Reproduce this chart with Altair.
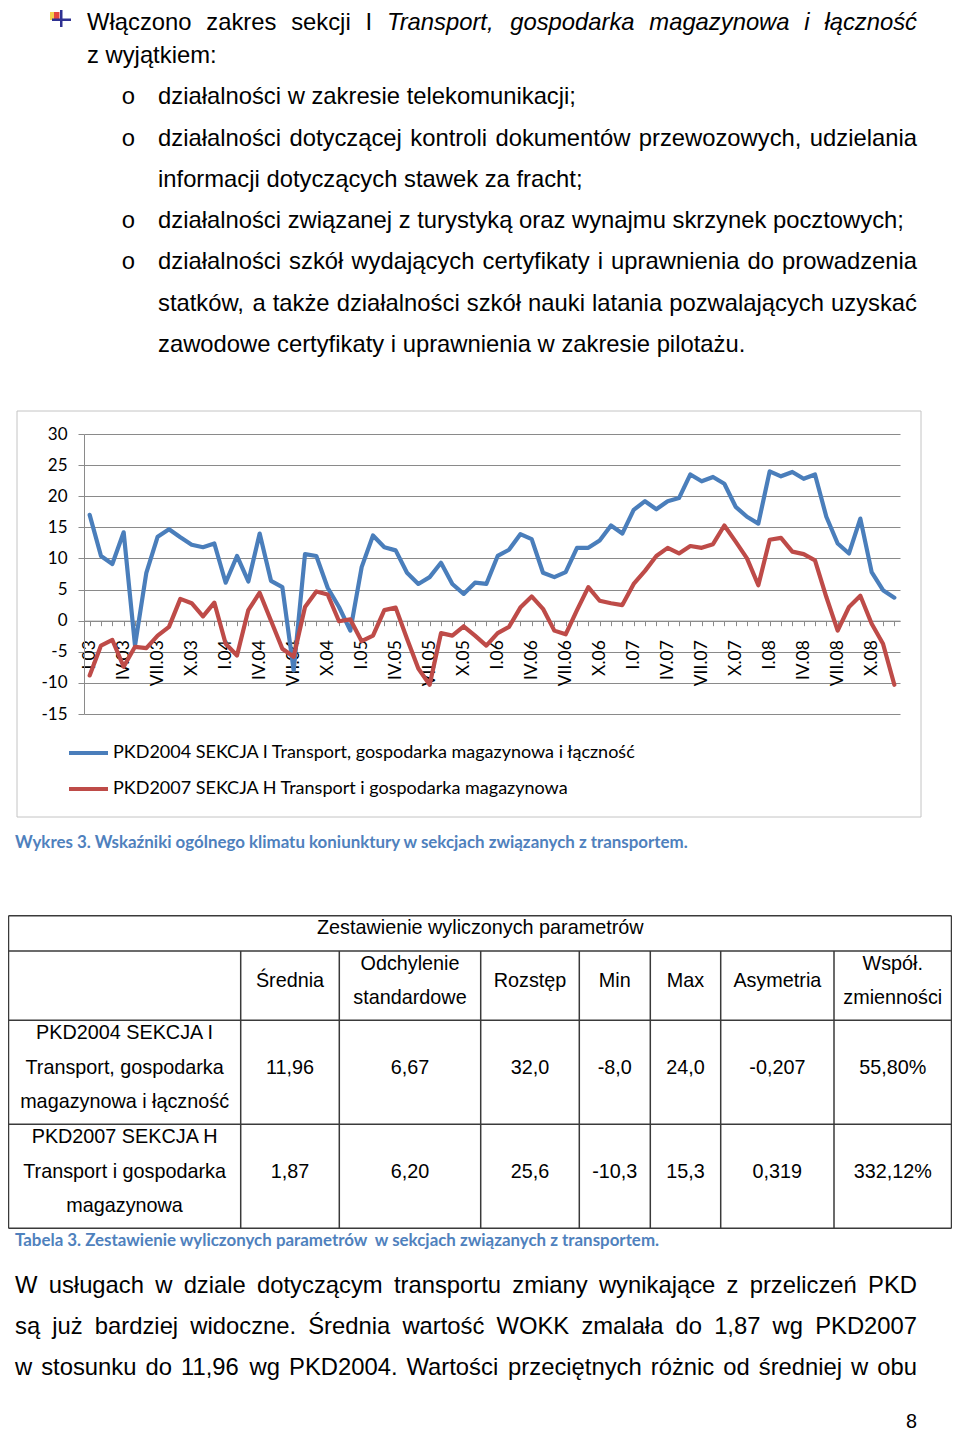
import altair as alt
import pandas as pd

# ---------------- data ----------------
ROMAN = ['I', 'II', 'III', 'IV', 'V', 'VI', 'VII', 'VIII', 'IX', 'X', 'XI', 'XII']
YEARS = ['03', '04', '05', '06', '07', '08']
MONTHS = [f"{r}.{y}" for y in YEARS for r in ROMAN]

PKD2004 = [17.0, 10.4, 9.1, 14.2, -4.0, 7.7, 13.5, 14.7, 13.4, 12.2, 11.8, 12.4,
           6.1, 10.4, 6.3, 14.0, 6.4, 5.4, -8.0, 10.7, 10.4, 5.3, 2.2, -1.6,
           8.6, 13.7, 11.8, 11.3, 7.7, 5.9, 7.0, 9.3, 5.9, 4.3, 6.1, 5.9,
           10.4, 11.4, 13.9, 13.1, 7.7, 7.0, 7.8, 11.7, 11.7, 12.9, 15.3, 14.0,
           17.8, 19.2, 17.9, 19.2, 19.7, 23.5, 22.4, 23.1, 22.0, 18.3, 16.7, 15.6,
           24.0, 23.2, 23.9, 22.8, 23.5, 16.7, 12.4, 10.8, 16.4, 7.8, 4.9, 3.7]
PKD2007 = [-8.8, -4.0, -3.1, -7.4, -4.2, -4.4, -2.4, -1.0, 3.5, 2.8, 0.7, 2.9,
           -3.7, -5.6, 1.7, 4.5, 0.0, -4.5, -5.8, 2.2, 4.7, 4.2, -0.1, 0.2,
           -3.3, -2.4, 1.7, 2.1, -2.9, -7.7, -10.3, -2.0, -2.4, -0.9, -2.4, -4.0,
           -2.0, -1.0, 2.1, 3.9, 1.9, -1.6, -2.2, 1.7, 5.4, 3.2, 2.8, 2.5,
           5.9, 8.0, 10.4, 11.7, 10.8, 12.0, 11.7, 12.3, 15.3, 12.7, 10.0, 5.7,
           13.0, 13.3, 11.1, 10.7, 9.7, 3.8, -1.6, 2.2, 4.0, -0.5, -3.7, -10.3]
SERIES = ["PKD2004 SEKCJA I Transport, gospodarka magazynowa i łączność",
          "PKD2007 SEKCJA H Transport i gospodarka magazynowa"]
COLORS = ["#4A7EBB", "#BE4B48"]
Y_TICKS = [-15, -10, -5, 0, 5, 10, 15, 20, 25, 30]
LABEL_MONTHS = ['I', 'IV', 'VII', 'X']

TABLE_TITLE = "Zestawienie wyliczonych parametrów"
TABLE_HEAD = ["Średnia", "Odchylenie\nstandardowe", "Rozstęp", "Min", "Max", "Asymetria", "Współ.\nzmienności"]
TABLE_ROWS = ["PKD2004 SEKCJA I\nTransport, gospodarka\nmagazynowa i łączność",
              "PKD2007 SEKCJA H\nTransport i gospodarka\nmagazynowa"]
TABLE_VALUES = [["11,96", "6,67", "32,0", "-8,0", "24,0", "-0,207", "55,80%"],
                ["1,87", "6,20", "25,6", "-10,3", "15,3", "0,319", "332,12%"]]

CAPTION_CHART = "Wykres 3. Wskaźniki ogólnego klimatu koniunktury w sekcjach związanych z transportem."
CAPTION_TABLE = "Tabela 3. Zestawienie wyliczonych parametrów\u00a0 w sekcjach związanych z transportem."

TOP_LINES = [
    ("J", [("Włączono", 0), ("zakres", 0), ("sekcji", 0), ("I", 0), ("Transport,", 1),
           ("gospodarka", 1), ("magazynowa", 1), ("i", 1), ("łączność", 1)]),
    ("L", "z wyjątkiem:"),
    ("L", "działalności w zakresie telekomunikacji;"),
    ("J", "działalności dotyczącej kontroli dokumentów przewozowych, udzielania"),
    ("L", "informacji dotyczących stawek za fracht;"),
    ("L", "działalności związanej z turystyką oraz wynajmu skrzynek pocztowych;"),
    ("J", "działalności szkół wydających certyfikaty i uprawnienia do prowadzenia"),
    ("J", "statków, a także działalności szkół nauki latania pozwalających uzyskać"),
    ("L", "zawodowe certyfikaty i uprawnienia w zakresie pilotażu."),
]
BULLET_LINES = [2, 3, 5, 6]
BOTTOM_LINES = [
    "W usługach w dziale dotyczącym transportu zmiany wynikające z przeliczeń PKD",
    "są już bardziej widoczne. Średnia wartość WOKK zmalała do 1,87 wg PKD2007",
    "w stosunku do 11,96 wg PKD2004. Wartości przeciętnych różnic od średniej w obu",
]
PAGE_NO = "8"

# ---------------- layout (page pixels) ----------------
OX, OY = 84, 434          # plot origin on page
PW, PH = 816, 280         # plot size
SVG_W, SVG_H = 944, 1426
BODY_FONT = "Liberation Sans"
CHART_FONT = "Lato"
BODY_FS = 23.8
TABLE_FS = 19.8

# Arial / Liberation Sans advance widths (1/1000 em)
AW = {' ': 278, ',': 278, '.': 278, ';': 278, ':': 278, '-': 333, '%': 889}
AW.update({d: 556 for d in '0123456789'})
AW.update(dict(a=556, b=556, c=500, d=556, e=556, f=278, g=556, h=556, i=222, j=222, k=500,
               l=222, m=833, n=556, o=556, p=556, q=556, r=333, s=500, t=278, u=556, v=500,
               w=722, x=500, y=500, z=500))
AW.update(dict(A=667, B=667, C=722, D=722, E=667, F=611, G=778, H=722, I=278, J=500, K=667,
               L=556, M=833, N=722, O=778, P=667, Q=778, R=722, S=667, T=611, U=722, V=667,
               W=944, X=667, Y=667, Z=611))
AW.update({'ą': 556, 'ć': 500, 'ę': 556, 'ł': 222, 'ń': 556, 'ó': 556, 'ś': 500, 'ź': 500,
           'ż': 500, 'Ś': 667, 'Ł': 556, 'Ż': 611, 'Ź': 611})


def text_width(s, fs):
    return sum(AW.get(ch, 556) for ch in s) / 1000.0 * fs


def justify(words, x0, x1, fs):
    total = sum(text_width(w, fs) for w, _ in words)
    gap = (x1 - x0 - total) / (len(words) - 1)
    out, x = [], x0
    for w, it in words:
        out.append((w, x, it))
        x += text_width(w, fs) + gap
    return out


regular, italic = [], []   # rows: (text, page_x, page_y)

top_base = [30] + [22 + 41.24 * k for k in range(1, len(TOP_LINES))]
for k, (mode, content) in enumerate(TOP_LINES):
    x0 = 87 if k < 2 else 158
    yb = top_base[k]
    if mode == "J":
        words = content if isinstance(content, list) else [(w, 0) for w in content.split(" ")]
        for w, x, it in justify(words, x0, 917, BODY_FS):
            (italic if it else regular).append((w, x, yb))
    else:
        regular.append((content, x0, yb))

for k, yb in zip(range(3), [1293, 1334, 1375]):
    words = [(w, 0) for w in BOTTOM_LINES[k].split(" ")]
    for w, x, it in justify(words, 15, 917, BODY_FS):
        regular.append((w, x, yb))

bullets = [("o", 128.5, top_base[k]) for k in BULLET_LINES]

# table text
col_x = [8.5, 240.7, 339.3, 480.7, 579.3, 650.3, 720.7, 834, 951.5]
col_c = [(col_x[i] + col_x[i + 1]) / 2 for i in range(len(col_x) - 1)]
row_y = [915.7, 951, 1020.3, 1124.3, 1228.3]
table_text = [(TABLE_TITLE, 480.3, 934)]
for i, h in enumerate(TABLE_HEAD):
    parts = h.split("\n")
    ys = [986.7] if len(parts) == 1 else [970, 1004.3]
    for p, yy in zip(parts, ys):
        table_text.append((p, col_c[i + 1], yy))
for r, (lab, vals) in enumerate(zip(TABLE_ROWS, TABLE_VALUES)):
    base = [1039.3, 1143.3][r]
    for j, p in enumerate(lab.split("\n")):
        table_text.append((p, col_c[0], base + 34.4 * j))
    for i, v in enumerate(vals):
        table_text.append((v, col_c[i + 1], base + 34.4))

# table lines: (x, x2, y, y2)
tlines = []
for yy in row_y:
    tlines.append((col_x[0], col_x[-1], yy, yy))
tlines.append((col_x[0], col_x[0], row_y[0], row_y[-1]))
tlines.append((col_x[-1], col_x[-1], row_y[0], row_y[-1]))
for xx in col_x[1:-1]:
    tlines.append((xx, xx, row_y[1], row_y[-1]))

# chart frame lines
fx0, fx1, fy0, fy1 = 17, 921, 411, 817
frame = [(fx0, fx1, fy0, fy0), (fx0, fx1, fy1, fy1), (fx0, fx0, fy0, fy1), (fx1, fx1, fy0, fy1)]


# ---------------- helpers ----------------
def rel(rows):
    return [(t, x - OX, y - OY) for t, x, y in rows]


def tlayer(rows, **kw):
    df = pd.DataFrame(rel(rows), columns=["t", "x", "y"])
    return alt.Chart(df).mark_text(baseline="alphabetic", **kw).encode(
        x=alt.X("x:Q", scale=None, axis=None),
        y=alt.Y("y:Q", scale=None, axis=None),
        text="t:N",
    )


def rlayer(rows, color, width):
    df = pd.DataFrame([(a - OX, b - OX, c - OY, d - OY) for a, b, c, d in rows],
                      columns=["x", "x2", "y", "y2"])
    return alt.Chart(df).mark_rule(color=color, strokeWidth=width).encode(
        x=alt.X("x:Q", scale=None, axis=None), x2="x2:Q",
        y=alt.Y("y:Q", scale=None, axis=None), y2="y2:Q",
    )


def boxlayer(rows):
    df = pd.DataFrame([(a - OX, b - OX, c - OY, d - OY, col) for a, b, c, d, col in rows],
                      columns=["x", "x2", "y", "y2", "c"])
    return alt.Chart(df).mark_rect().encode(
        x=alt.X("x:Q", scale=None, axis=None), x2="x2:Q",
        y=alt.Y("y:Q", scale=None, axis=None), y2="y2:Q",
        color=alt.Color("c:N", scale=None, legend=None),
    )


# ---------------- chart ----------------
df = pd.DataFrame({
    "month": MONTHS * 2,
    "value": PKD2004 + PKD2007,
    "series": [SERIES[0]] * len(MONTHS) + [SERIES[1]] * len(MONTHS),
})

label_expr = ("indexof(" + str(LABEL_MONTHS) + ", split(datum.label, '.')[0]) >= 0 ? datum.label : ''")
zero_offset = -(PH * 15 / 45)

lines = alt.Chart(df).mark_line(strokeWidth=4.2, strokeJoin="round", strokeCap="round").encode(
    x=alt.X("month:O", sort=MONTHS, scale=alt.Scale(type="point", padding=0.5),
            axis=alt.Axis(title=None, orient="bottom", offset=zero_offset, grid=False,
                          domainColor="#8a8a8a", tickColor="#8a8a8a", tickSize=5,
                          labelAngle=270, labelPadding=14, labelFont=CHART_FONT,
                          labelFontSize=17.5, labelColor="#000000", labelOverlap=False,
                          labelBound=False, labelExpr=label_expr)),
    y=alt.Y("value:Q", scale=alt.Scale(domain=[-15, 30], nice=False, zero=False),
            axis=alt.Axis(title=None, values=Y_TICKS, grid=True, gridColor="#8a8a8a",
                          domainColor="#8a8a8a", tickColor="#8a8a8a", tickSize=6,
                          labelPadding=11, labelFont=CHART_FONT, labelFontSize=17,
                          labelColor="#000000", labelExpr="'' + datum.value")),
    color=alt.Color("series:N", scale=alt.Scale(domain=SERIES, range=COLORS), legend=None),
)

legend_df = pd.DataFrame({
    "x": [69 - OX, 69 - OX], "x2": [108 - OX, 108 - OX],
    "y": [753 - OY, 789 - OY], "c": COLORS, "t": SERIES, "tx": [113 - OX, 113 - OX],
})
legend_lines = alt.Chart(legend_df).mark_rule(strokeWidth=4).encode(
    x=alt.X("x:Q", scale=None, axis=None), x2="x2:Q",
    y=alt.Y("y:Q", scale=None, axis=None),
    color=alt.Color("c:N", scale=None, legend=None),
)
legend_text = alt.Chart(legend_df).mark_text(align="left", baseline="middle", font=CHART_FONT,
                                             fontSize=18, color="#000000").encode(
    x=alt.X("tx:Q", scale=None, axis=None),
    y=alt.Y("y:Q", scale=None, axis=None),
    text="t:N",
)

icon = boxlayer([
    (50, 54.5, 12, 20, "#f4d24c"),
    (54, 59.5, 12, 20, "#e5473d"),
    (60, 62.5, 10, 27, "#2e3192"),
    (52, 71, 18.5, 21, "#2e3192"),
])

layers = [
    rlayer(frame, "#c4c4c4", 1),
    lines,
    legend_lines,
    legend_text,
    icon,
    tlayer(regular, align="left", font=BODY_FONT, fontSize=BODY_FS, color="#000000"),
    tlayer(italic, align="left", font=BODY_FONT, fontSize=BODY_FS, fontStyle="italic", color="#000000"),
    tlayer(bullets, align="center", font="Liberation Mono", fontSize=BODY_FS, color="#000000"),
    tlayer([(CAPTION_CHART, 15, 848), (CAPTION_TABLE, 15, 1246)], align="left", font=CHART_FONT,
           fontSize=16.9, fontWeight="bold", color="#4F81BD"),
    rlayer(tlines, "#3a3a3a", 1.5),
    tlayer(table_text, align="center", font=BODY_FONT, fontSize=TABLE_FS, color="#000000"),
    tlayer([(PAGE_NO, 917, 1428)], align="right", font=BODY_FONT, fontSize=TABLE_FS, color="#000000"),
]

chart = alt.layer(*layers).resolve_scale(
    x="independent", y="independent", color="independent"
).properties(
    width=PW, height=PH,
    padding={"left": OX - 8, "top": OY - 8, "right": SVG_W - (OX - 8) - PW,
             "bottom": SVG_H - (OY - 8) - PH},
    autosize=alt.AutoSizeParams(type="none"),
    background="#ffffff",
).configure_view(strokeWidth=0)

chart.save("out.html", embed_options={"renderer": "svg", "actions": False})
